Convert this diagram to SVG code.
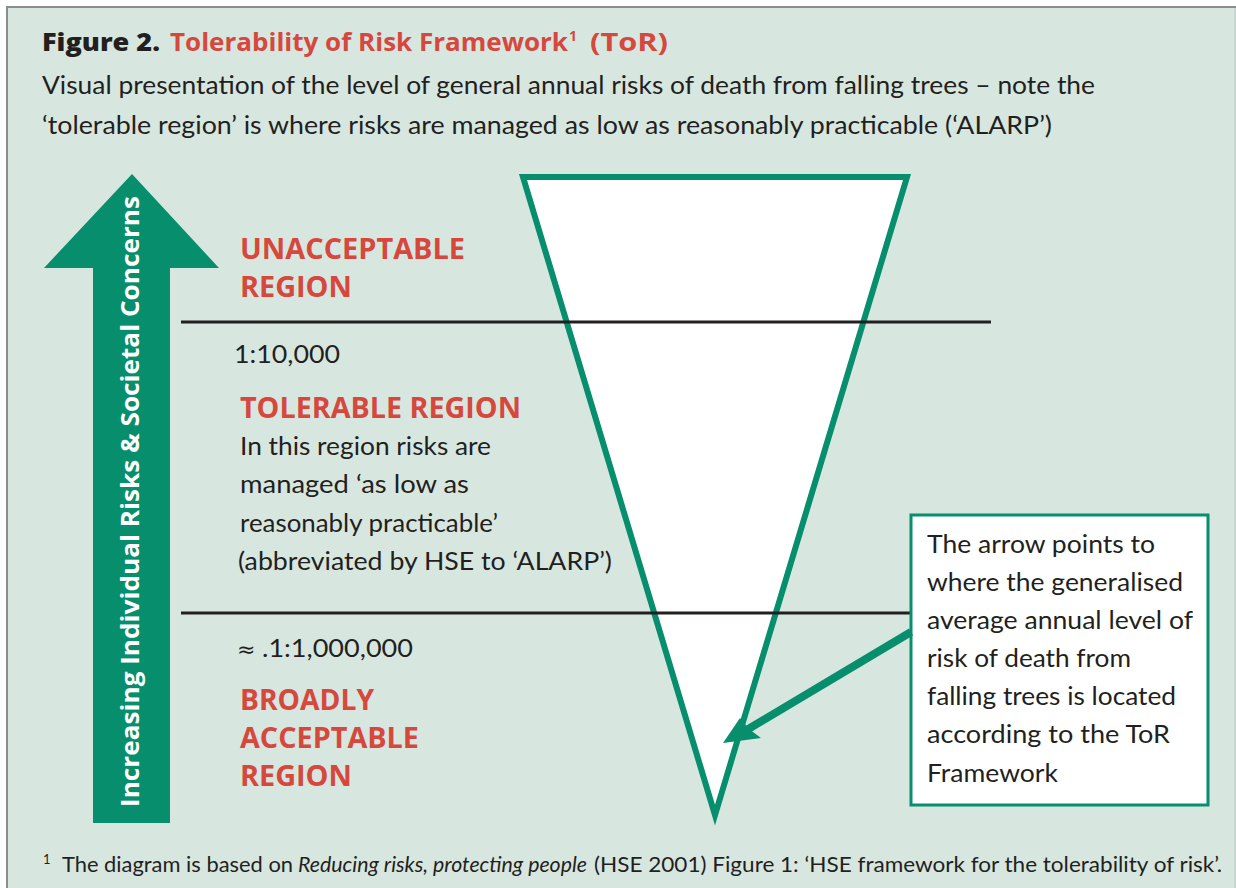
<svg xmlns="http://www.w3.org/2000/svg" width="1236" height="888" viewBox="0 0 1236 888">
  <defs>
    <style>
      .txt { font-family: Lato, "Open Sans", "Liberation Sans", sans-serif; fill: #231f20; }
      .heavy { font-family: "Open Sans", Lato, "Liberation Sans", sans-serif; font-weight: 800; }
      .body { font-size: 25px; }
      .red { fill: #d6483d; }
      .label { font-family: "Open Sans", Lato, "Liberation Sans", sans-serif; font-size: 29px; font-weight: bold; fill: #d6483d; }
      .rule { stroke: #231f20; stroke-width: 3; fill: none; }
      .green-fill { fill: #078e6c; }
      .green-stroke { stroke: #078e6c; fill: #ffffff; }
    </style>
  </defs>

  <!-- page and panel -->
  <rect x="0" y="0" width="1236" height="888" fill="#ffffff"/>
  <rect x="7" y="7" width="1229" height="881" fill="#d7e7e0"/>
  <line x1="6" y1="7" x2="1236" y2="7" stroke="#8c8c8c" stroke-width="2"/>
  <line x1="7" y1="6" x2="7" y2="888" stroke="#8c8c8c" stroke-width="2"/>
  <line x1="1235" y1="8" x2="1235" y2="888" stroke="#bcc8c3" stroke-width="1"/>

  <!-- heading -->
  <g id="title">
    <text class="txt heavy" x="42" y="51" font-size="25" textLength="118" lengthAdjust="spacingAndGlyphs">Figure 2.</text>
    <text class="txt heavy red" x="170" y="51" font-size="25" style="font-weight:700" textLength="398" lengthAdjust="spacingAndGlyphs">Tolerability of Risk Framework</text>
    <text class="txt heavy red" x="569" y="41" font-size="14" style="font-weight:700">1</text>
    <text class="txt heavy red" x="590" y="51" font-size="25" style="font-weight:700" textLength="78" lengthAdjust="spacingAndGlyphs">(ToR)</text>
    <text class="txt body" x="42" y="94" textLength="1053" lengthAdjust="spacingAndGlyphs">Visual presentation of the level of general annual risks of death from falling trees – note the</text>
    <text class="txt body" x="42" y="134" textLength="1010" lengthAdjust="spacingAndGlyphs">‘tolerable region’ is where risks are managed as low as reasonably practicable (‘ALARP’)</text>
  </g>

  <!-- vertical arrow -->
  <g id="risk-arrow">
    <polygon class="green-fill" points="132,174 219,268 170,268 170,823 93,823 93,268 44,268"/>
    <text class="txt heavy" transform="translate(139,807) rotate(-90)" x="0" y="0" font-size="25" style="fill:#ffffff;font-weight:700" textLength="611" lengthAdjust="spacingAndGlyphs">Increasing Individual Risks &amp; Societal Concerns</text>
  </g>

  <!-- funnel -->
  <g id="funnel">
    <path class="green-stroke" d="M523,177 L907,177 L715,815 Z" stroke-width="6"/>
  </g>

  <!-- region boundaries -->
  <g id="boundaries">
    <line class="rule" x1="181" y1="322" x2="991" y2="322"/>
    <line class="rule" x1="181" y1="613" x2="911" y2="613"/>
  </g>

  <!-- regions -->
  <g id="unacceptable-region">
    <text class="label" x="240" y="259" textLength="225" lengthAdjust="spacingAndGlyphs">UNACCEPTABLE</text>
    <text class="label" x="240" y="297" textLength="112" lengthAdjust="spacingAndGlyphs">REGION</text>
  </g>

  <g id="tolerable-region">
    <text class="txt body" x="234" y="363" textLength="106" lengthAdjust="spacingAndGlyphs">1:10,000</text>
    <text class="label" x="240" y="418" textLength="281" lengthAdjust="spacingAndGlyphs">TOLERABLE REGION</text>
    <text class="txt body" x="240" y="455" textLength="251" lengthAdjust="spacingAndGlyphs">In this region risks are</text>
    <text class="txt body" x="240" y="493" textLength="229" lengthAdjust="spacingAndGlyphs">managed ‘as low as</text>
    <text class="txt body" x="240" y="532" textLength="258" lengthAdjust="spacingAndGlyphs">reasonably practicable’</text>
    <text class="txt body" x="238" y="570" textLength="374" lengthAdjust="spacingAndGlyphs">(abbreviated by HSE to ‘ALARP’)</text>
  </g>

  <g id="broadly-acceptable-region">
    <text class="txt body" x="237" y="657"><tspan font-family="'DejaVu Sans', sans-serif" font-size="22">≈</tspan><tspan x="262" textLength="151" lengthAdjust="spacingAndGlyphs">.1:1,000,000</tspan></text>
    <text class="label" x="240" y="710" textLength="134" lengthAdjust="spacingAndGlyphs">BROADLY</text>
    <text class="label" x="240" y="748" textLength="179" lengthAdjust="spacingAndGlyphs">ACCEPTABLE</text>
    <text class="label" x="240" y="786" textLength="112" lengthAdjust="spacingAndGlyphs">REGION</text>
  </g>

  <!-- callout -->
  <g id="callout">
    <rect x="911" y="515" width="297" height="290" fill="#ffffff" stroke="#078e6c" stroke-width="3"/>
    <text class="txt body" x="927" y="553" textLength="228" lengthAdjust="spacingAndGlyphs">The arrow points to</text>
    <text class="txt body" x="927" y="591" textLength="256" lengthAdjust="spacingAndGlyphs">where the generalised</text>
    <text class="txt body" x="927" y="629" textLength="266" lengthAdjust="spacingAndGlyphs">average annual level of</text>
    <text class="txt body" x="927" y="667" textLength="204" lengthAdjust="spacingAndGlyphs">risk of death from</text>
    <text class="txt body" x="927" y="705" textLength="249" lengthAdjust="spacingAndGlyphs">falling trees is located</text>
    <text class="txt body" x="927" y="743" textLength="243" lengthAdjust="spacingAndGlyphs">according to the ToR</text>
    <text class="txt body" x="927" y="782" textLength="131" lengthAdjust="spacingAndGlyphs">Framework</text>
  </g>

  <!-- pointer from callout into funnel -->
  <g id="connectors">
    <line x1="911" y1="632" x2="745" y2="731" stroke="#078e6c" stroke-width="8"/>
    <polygon class="green-fill" points="723,743 740,718 749,729 761,738"/>
  </g>

  <!-- footnote -->
  <g id="footnote">
    <text class="txt" x="43" y="864" font-size="13">1</text>
    <text class="txt" x="62" y="872" font-size="21" textLength="231" lengthAdjust="spacingAndGlyphs">The diagram is based on</text>
    <text class="txt" x="298" y="872" font-size="21" font-style="italic" textLength="289" lengthAdjust="spacingAndGlyphs">Reducing risks, protecting people</text>
    <text class="txt" x="594" y="872" font-size="21" textLength="628" lengthAdjust="spacingAndGlyphs">(HSE 2001) Figure 1: ‘HSE framework for the tolerability of risk’.</text>
  </g>
</svg>
